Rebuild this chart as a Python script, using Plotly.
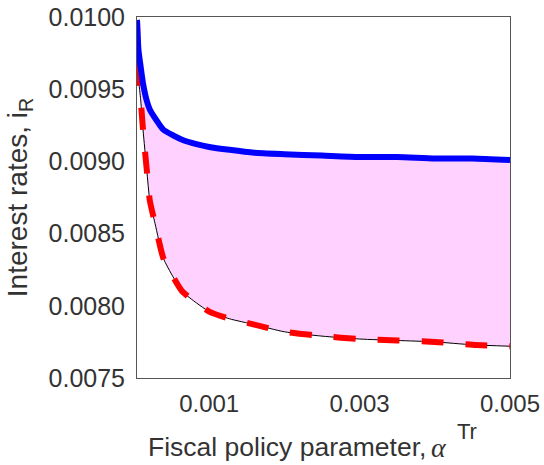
import plotly.graph_objects as go

# Fiscal policy parameter (x) grid
alpha_tr = [0.00004, 0.00006, 0.00009, 0.00012, 0.00017, 0.00021, 0.00028, 0.00039,
            0.00052, 0.00064, 0.00083, 0.001, 0.00127, 0.0016, 0.002, 0.0025,
            0.003, 0.0035, 0.004, 0.0045, 0.005]
# Upper bound (blue)
upper_rate = [0.00998, 0.00977, 0.00965, 0.00954, 0.00942, 0.00936, 0.00930, 0.00922,
              0.00918, 0.00915, 0.00912, 0.00910, 0.00908, 0.00906, 0.00905, 0.00904,
              0.00903, 0.00903, 0.00902, 0.00902, 0.00901]
# Lower bound (red dashed / black)
lower_rate = [0.00998, 0.00958, 0.00942, 0.00922, 0.00894, 0.00873, 0.00857, 0.00833,
              0.00820, 0.00810, 0.00802, 0.00796, 0.00791, 0.00787, 0.00782, 0.00779,
              0.00777, 0.00776, 0.00775, 0.00773, 0.00772]

x_ticks = [0.001, 0.003, 0.005]
x_ticktext = ["0.001", "0.003", "0.005"]
y_ticks = [0.0075, 0.0080, 0.0085, 0.0090, 0.0095, 0.0100]
y_ticktext = ["0.0075", "0.0080", "0.0085", "0.0090", "0.0095", "0.0100"]

TXT = "#333333"
FONT = "Liberation Sans, Arial, sans-serif"
SERIF = "Liberation Serif, Times New Roman, serif"

fig = go.Figure()
# fill region
fig.add_trace(go.Scatter(x=alpha_tr, y=lower_rate, mode="lines",
                         line=dict(width=0, shape="spline", smoothing=0.6),
                         showlegend=False, hoverinfo="skip"))
fig.add_trace(go.Scatter(x=alpha_tr, y=upper_rate, mode="lines", fill="tonexty",
                         fillcolor="rgb(255,209,255)",
                         line=dict(width=0, shape="spline", smoothing=0.6),
                         showlegend=False, hoverinfo="skip"))
# lines
fig.add_trace(go.Scatter(x=alpha_tr, y=lower_rate, mode="lines",
                         line=dict(color="black", width=1, shape="spline", smoothing=0.6),
                         showlegend=False))
fig.add_trace(go.Scatter(x=alpha_tr, y=lower_rate, mode="lines",
                         line=dict(color="rgb(255,0,0)", width=6, dash="22px,22px",
                                   shape="spline", smoothing=0.6),
                         showlegend=False))
fig.add_trace(go.Scatter(x=alpha_tr, y=upper_rate, mode="lines",
                         line=dict(color="rgb(0,0,255)", width=6, shape="spline", smoothing=0.6),
                         showlegend=False))

fig.update_layout(
    width=544, height=465,
    margin=dict(l=137, r=34, t=17, b=87),
    paper_bgcolor="white", plot_bgcolor="white",
    font=dict(family=FONT, size=24, color=TXT),
    xaxis=dict(range=[0.00004, 0.005], tickvals=x_ticks, ticktext=x_ticktext,
               automargin=False,
               showgrid=False, zeroline=False, showline=True, mirror=True,
               linecolor="#555555", linewidth=1, ticks="outside", ticklen=4,
               tickcolor="rgba(0,0,0,0)", tickfont=dict(size=24, color=TXT)),
    yaxis=dict(range=[0.0075, 0.0100], tickvals=y_ticks, ticktext=y_ticktext,
               automargin=False,
               showgrid=False, zeroline=False, showline=True, mirror=True,
               linecolor="#555555", linewidth=1, ticks="outside", ticklen=6,
               tickcolor="rgba(0,0,0,0)", tickfont=dict(size=25, color=TXT),
               title=dict(text="Interest rates, i<sub>R</sub>", standoff=12,
                          font=dict(size=28, color=TXT))),
)

def px2paper_x(px):
    return (px - 137) / (544 - 137 - 34)

def px2paper_y(py):
    return (465 - 87 - py) / (465 - 17 - 87)

fig.add_annotation(text="Fiscal policy parameter,", xref="paper", yref="paper",
                   x=px2paper_x(146), y=px2paper_y(447), xanchor="left", yanchor="middle",
                   showarrow=False, font=dict(size=26.5, color=TXT, family=FONT))
fig.add_annotation(text="<i>α</i>", xref="paper", yref="paper",
                   x=px2paper_x(439), y=px2paper_y(447), xanchor="center", yanchor="middle",
                   showarrow=False, font=dict(size=28, color=TXT, family=SERIF))
fig.add_annotation(text="Tr", xref="paper", yref="paper",
                   x=px2paper_x(467), y=px2paper_y(432), xanchor="center", yanchor="middle",
                   showarrow=False, font=dict(size=22, color=TXT, family=FONT))
fig.add_annotation(text="<i>τ</i>", xref="paper", yref="paper",
                   x=px2paper_x(461), y=px2paper_y(471), xanchor="center", yanchor="middle",
                   showarrow=False, font=dict(size=22, color=TXT, family=SERIF))

fig.write_html("out.html")
